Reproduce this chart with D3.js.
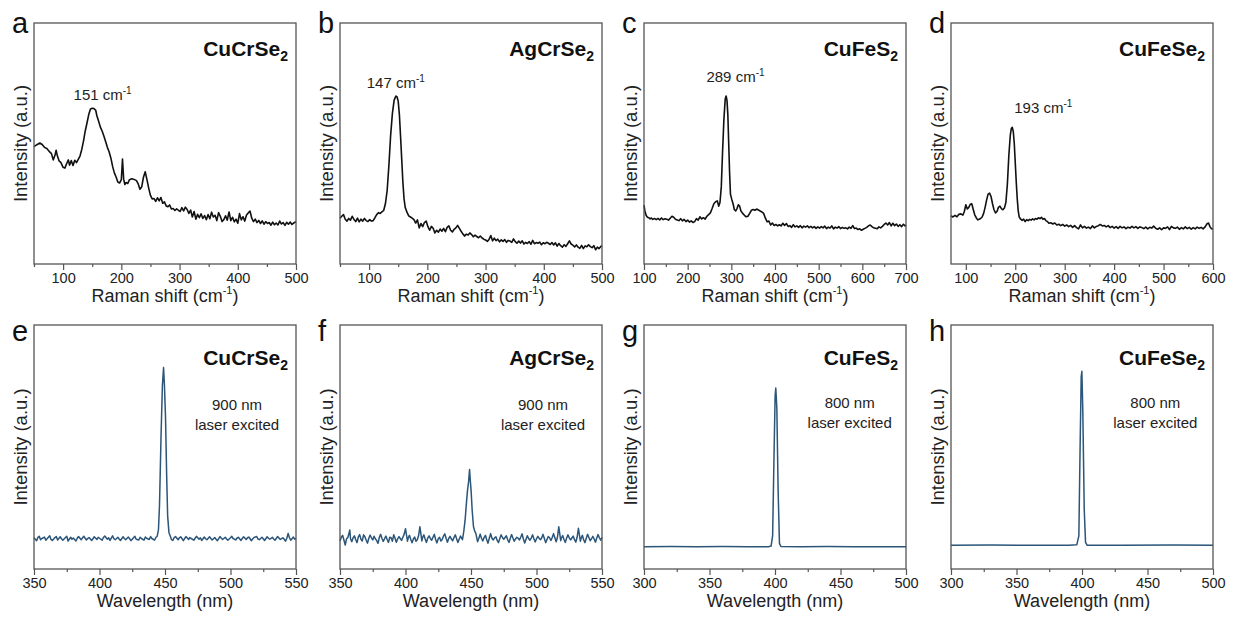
<!DOCTYPE html>
<html>
<head>
<meta charset="utf-8">
<script src="https://cdn.jsdelivr.net/npm/d3@7"></script>
<style>
  body { margin: 0; background: #fff; }
  svg { font-family: "Liberation Sans", Arial, sans-serif; }
</style>
</head>
<body>
<div id="chart"></div>
<script>
// Raman spectra, [shift (cm-1), intensity (a.u.)]
const ramanCuCrSe2 = [[50,48.7],[55,49.5],[60,50.2],[64,49.6],[68,48.4],[72,47.9],[77,46.5],[80,45.8],[83,43.2],[86,45.1],[88,47.2],[90,45.0],[93,42.8],[96,42.2],[100,40.1],[103,39.8],[106,41.6],[109,43.2],[111,41.0],[114,42.9],[117,40.9],[120,43.0],[123,42.1],[126,43.4],[129,44.8],[132,47.5],[135,51.0],[138,55.2],[141,58.5],[144,62.0],[147,64.3],[150,64.6],[153,64.5],[156,63.8],[158,61.5],[161,59.2],[164,56.8],[167,55.2],[170,53.1],[173,50.8],[176,48.4],[179,46.6],[182,44.0],[185,40.5],[188,37.8],[191,36.1],[194,34.0],[197,33.6],[200,35.0],[202,43.5],[204,35.2],[206,33.0],[208,33.8],[211,33.4],[214,35.0],[218,35.4],[222,35.1],[226,34.6],[229,33.2],[232,31.0],[235,32.0],[238,36.0],[241,38.3],[244,35.0],[247,31.5],[250,28.5],[253,27.0],[256,27.2],[259,26.0],[262,27.5],[265,26.2],[268,27.6],[271,25.2],[274,25.8],[277,24.1],[280,23.8],[283,24.5],[286,22.8],[289,23.0],[292,22.2],[295,22.9],[298,22.3],[301,21.8],[304,23.4],[307,22.0],[310,23.6],[313,22.6],[316,21.0],[319,22.4],[322,19.5],[325,21.8],[328,18.6],[331,20.6],[334,19.2],[337,20.8],[340,18.9],[343,20.1],[346,18.4],[349,20.5],[352,18.8],[355,21.5],[358,19.5],[361,20.2],[364,18.0],[367,21.3],[370,19.8],[373,17.6],[376,18.4],[379,20.0],[382,18.2],[385,21.6],[388,18.0],[391,19.4],[394,17.5],[397,18.6],[400,16.9],[403,20.9],[406,18.3],[409,19.6],[412,17.8],[415,20.3],[418,21.2],[421,22.0],[424,19.0],[427,17.6],[430,18.6],[433,17.2],[436,18.1],[439,16.8],[442,17.9],[445,16.5],[448,17.6],[451,16.8],[454,17.2],[457,16.1],[460,17.4],[463,16.3],[466,17.0],[469,16.2],[472,17.8],[475,16.6],[478,17.2],[481,16.0],[484,17.3],[487,16.5],[490,17.4],[493,16.4],[496,17.0],[500,17.6]];

const ramanAgCrSe2 = [[50,19.0],[53,19.8],[56,20.5],[59,18.6],[62,17.8],[65,18.9],[68,18.2],[71,19.8],[74,18.5],[77,17.6],[80,19.0],[83,17.5],[86,18.6],[89,17.8],[92,18.9],[95,18.0],[98,17.6],[101,18.4],[104,17.8],[107,18.0],[110,19.2],[113,20.5],[116,21.3],[119,21.0],[122,21.6],[125,22.2],[128,25.0],[131,30.5],[134,41.0],[137,53.5],[140,62.5],[143,68.0],[146,69.7],[148,69.3],[150,67.5],[152,62.0],[154,53.0],[156,43.5],[158,34.0],[160,27.0],[162,23.5],[165,21.5],[168,20.0],[171,19.5],[174,19.0],[177,18.4],[180,17.0],[183,18.3],[186,15.0],[189,16.8],[192,15.5],[195,17.2],[198,17.8],[201,15.5],[204,14.0],[207,15.6],[210,14.8],[213,12.9],[216,14.0],[219,13.2],[222,14.5],[225,13.6],[228,14.8],[231,13.4],[234,15.2],[237,15.8],[240,14.0],[243,13.3],[246,14.4],[249,15.0],[252,16.0],[255,14.8],[258,13.6],[261,12.5],[264,11.6],[267,12.4],[270,12.0],[273,12.9],[276,12.2],[279,11.3],[282,12.0],[285,11.4],[288,10.9],[291,11.6],[294,10.8],[297,10.3],[300,10.0],[303,9.4],[306,10.2],[309,11.8],[312,9.6],[315,10.7],[318,9.7],[321,10.3],[324,9.2],[327,10.0],[330,9.4],[333,10.1],[336,9.0],[339,9.8],[342,9.5],[345,9.0],[348,10.4],[351,9.3],[354,8.6],[357,9.5],[360,8.7],[363,9.6],[366,8.3],[369,9.0],[372,8.5],[375,9.3],[378,8.2],[381,9.8],[384,8.4],[387,8.9],[390,8.6],[393,9.1],[396,8.0],[399,8.8],[402,8.4],[405,9.0],[408,8.6],[411,8.1],[414,8.9],[417,7.9],[420,8.8],[423,7.4],[426,8.5],[429,7.6],[432,7.0],[435,8.0],[438,7.3],[441,8.4],[444,9.6],[447,8.3],[450,7.8],[453,7.1],[456,7.9],[459,7.0],[462,6.5],[465,7.7],[468,6.4],[471,7.5],[474,7.2],[477,8.0],[480,7.2],[483,6.8],[486,7.6],[489,5.9],[492,7.0],[495,6.4],[498,7.3],[500,7.6]];

const ramanCuFeS2 = [[100,24.4],[102,22.0],[105,20.1],[108,19.4],[111,19.2],[114,18.7],[117,19.1],[120,18.5],[124,18.9],[128,18.4],[132,18.9],[136,18.3],[140,19.1],[144,18.4],[148,18.8],[152,18.6],[156,18.2],[160,19.0],[164,19.8],[168,19.4],[172,18.6],[176,18.3],[180,18.0],[184,18.8],[188,17.9],[192,18.5],[196,17.6],[200,18.2],[204,17.4],[208,17.9],[212,17.2],[216,17.6],[220,18.8],[224,18.2],[228,19.6],[232,18.7],[236,19.2],[240,18.6],[244,19.8],[248,20.5],[252,21.2],[256,23.0],[260,25.0],[264,25.8],[268,26.2],[271,24.0],[274,25.5],[277,32.0],[280,47.0],[283,60.0],[286,68.5],[288,69.7],[290,68.0],[292,62.0],[294,50.0],[296,38.0],[298,29.0],[301,26.8],[304,25.0],[307,22.5],[310,22.0],[313,23.0],[316,24.6],[319,24.0],[322,22.0],[326,21.0],[330,20.2],[334,19.6],[338,19.8],[342,21.0],[346,22.3],[350,22.6],[354,22.3],[358,22.8],[362,22.4],[366,22.0],[370,21.6],[374,21.0],[378,19.0],[382,17.5],[386,17.8],[390,16.2],[394,17.0],[398,16.0],[402,16.4],[406,15.8],[410,16.3],[414,15.8],[418,16.9],[422,16.0],[426,16.8],[430,15.6],[434,15.9],[438,15.2],[442,16.3],[446,15.4],[450,15.8],[454,15.2],[458,15.9],[462,15.0],[466,15.7],[470,15.3],[474,15.8],[478,15.1],[482,15.6],[486,15.0],[490,15.5],[494,14.8],[498,15.4],[502,14.9],[506,15.5],[510,15.0],[514,15.7],[518,14.7],[522,15.3],[526,14.9],[530,15.8],[534,14.6],[538,15.3],[542,14.9],[546,15.5],[550,14.7],[554,15.2],[558,14.8],[562,15.0],[566,14.6],[570,15.3],[574,14.8],[578,15.9],[582,14.7],[586,14.9],[590,14.3],[594,14.6],[598,14.0],[602,14.4],[606,14.8],[610,15.2],[614,15.8],[618,16.2],[622,15.5],[626,15.0],[630,14.8],[634,14.6],[638,15.4],[642,15.0],[646,15.6],[650,16.4],[654,17.0],[658,16.2],[662,17.2],[666,15.8],[670,16.9],[674,15.9],[678,16.6],[682,15.6],[686,16.3],[690,15.5],[694,16.5],[698,15.8],[700,16.2]];

const ramanCuFeSe2 = [[70,20.0],[74,19.5],[78,20.2],[82,19.6],[86,20.6],[90,20.8],[94,20.3],[97,21.8],[100,24.6],[103,22.8],[106,23.5],[109,24.8],[112,25.0],[115,22.6],[118,20.4],[121,19.2],[124,18.3],[127,18.6],[130,18.9],[133,19.5],[136,21.0],[139,23.5],[142,26.5],[145,29.0],[148,29.4],[151,28.0],[154,25.0],[157,22.5],[160,21.2],[163,21.8],[166,23.5],[169,24.0],[172,23.0],[175,22.5],[178,23.2],[181,25.5],[184,33.0],[187,45.0],[190,53.5],[192,56.2],[194,56.7],[196,55.0],[198,50.0],[200,42.0],[202,34.0],[204,27.0],[206,22.0],[208,19.5],[211,18.6],[214,18.1],[217,18.6],[220,17.6],[223,18.4],[226,18.0],[229,18.5],[232,18.2],[235,18.7],[238,18.3],[241,18.9],[244,18.6],[247,19.2],[250,18.8],[253,19.4],[256,18.6],[259,18.9],[262,18.0],[265,17.6],[268,16.9],[272,17.1],[276,16.6],[280,17.0],[284,16.2],[288,16.5],[292,15.9],[296,16.4],[300,15.7],[304,16.2],[308,15.5],[312,16.0],[316,15.2],[320,15.9],[324,15.1],[328,14.6],[332,16.2],[336,15.0],[340,15.6],[344,14.9],[348,15.3],[352,14.7],[356,15.8],[360,15.0],[364,15.6],[368,15.9],[372,16.4],[376,15.8],[380,16.0],[384,15.4],[388,15.9],[392,15.1],[396,15.6],[400,14.9],[404,15.5],[408,14.8],[412,15.6],[416,15.0],[420,15.4],[424,14.7],[428,15.3],[432,14.9],[436,15.6],[440,15.0],[444,15.5],[448,14.8],[452,15.4],[456,15.1],[460,14.7],[464,15.3],[468,14.6],[472,15.2],[476,14.9],[480,15.7],[484,14.8],[488,14.4],[492,15.0],[496,14.2],[500,15.0],[504,14.8],[508,15.4],[512,14.3],[516,15.6],[520,15.0],[524,14.8],[528,15.3],[532,14.4],[536,15.1],[540,14.6],[544,15.4],[548,14.7],[552,15.2],[556,14.5],[560,15.1],[564,14.6],[568,15.3],[572,14.8],[576,15.2],[580,14.6],[584,15.4],[588,16.7],[591,17.0],[594,15.4],[597,14.6],[600,14.5]];

// emission spectra, [wavelength (nm), intensity (a.u.)]
const plCuCrSe2 = [[350,12.8],[351,12.2],[352,11.6],[353,13.0],[354,13.4],[355,12.0],[356,12.5],[358,13.1],[359,11.8],[360,12.4],[362,13.6],[363,12.1],[364,11.7],[366,12.9],[367,13.3],[368,11.9],[370,13.2],[371,12.4],[372,11.8],[374,12.9],[375,13.4],[376,11.5],[378,13.0],[379,12.2],[380,12.7],[382,11.5],[383,12.6],[384,13.3],[386,12.0],[387,12.7],[388,13.4],[390,11.9],[391,12.5],[392,12.9],[394,11.7],[395,12.4],[396,13.2],[398,12.1],[399,13.0],[400,12.6],[402,11.8],[403,12.9],[404,13.5],[406,12.2],[407,12.8],[408,11.7],[410,13.6],[411,12.4],[412,12.0],[414,13.0],[415,12.3],[416,11.7],[418,13.2],[419,12.5],[420,12.0],[422,13.1],[423,12.4],[424,11.6],[426,12.8],[427,13.4],[428,12.2],[430,11.9],[431,13.0],[432,12.5],[434,11.8],[435,13.1],[436,12.6],[438,12.1],[439,13.3],[440,12.5],[442,11.8],[443,12.9],[444,13.4],[445,16],[445.8,26],[447,55],[448,75],[448.9,82.6],[449.6,75],[450.4,62],[451.2,40],[452,22],[453,15],[454.2,13.2],[455,12.0],[456,11.7],[457,12.9],[458,13.3],[460,12.0],[461,12.8],[462,13.2],[464,11.6],[465,12.5],[466,13.3],[468,12.1],[469,12.9],[470,12.5],[472,11.8],[473,12.6],[474,13.4],[476,12.2],[477,12.8],[478,11.7],[480,13.1],[481,12.4],[482,12.0],[484,13.2],[485,12.5],[486,11.9],[488,12.9],[489,12.2],[490,11.6],[492,13.3],[493,12.6],[494,12.1],[496,13.0],[497,12.3],[498,11.8],[500,12.8],[501,13.4],[502,12.5],[504,11.9],[505,12.7],[506,13.0],[508,11.7],[509,12.5],[510,13.2],[512,12.1],[513,12.8],[514,13.1],[516,11.6],[517,12.4],[518,12.9],[520,13.3],[521,12.3],[522,12.0],[524,13.0],[525,12.4],[526,11.7],[528,13.2],[529,12.6],[530,12.2],[532,13.0],[533,12.3],[534,11.8],[536,13.3],[537,12.7],[538,12.1],[540,12.8],[541,12.2],[542,11.4],[543,12.6],[544,14.6],[545,12.8],[546,11.8],[548,13.1],[549,12.2],[550,12.6]];

const plAgCrSe2 = [[350,11.5],[351,13.0],[352,13.8],[353,11.9],[354,9.8],[355,12.4],[356,12.9],[357.5,16.0],[358,12.5],[359,11.2],[360,12.8],[361,13.6],[362,12.0],[363,10.8],[364,13.2],[365,14.1],[366,12.2],[367,11.5],[368,14.0],[369,13.2],[370,11.8],[371,10.6],[372,12.6],[373,13.9],[374,12.8],[375,11.9],[376,13.4],[377,12.4],[378,11.6],[379,10.5],[380,12.9],[381,14.2],[382,12.6],[383,11.3],[384,12.4],[385,13.5],[386,12.1],[387,10.9],[388,13.0],[389,12.8],[390,11.4],[391,14.0],[392,12.7],[393,11.0],[394,12.3],[395,13.3],[396,12.5],[397,11.7],[398,13.0],[399,14.3],[400,16.5],[401.5,11.4],[402,12.6],[403,13.8],[404,12.2],[405,10.8],[406,12.3],[407,13.1],[408,11.4],[409,12.0],[410,13.7],[411,17.3],[412.5,11.5],[413,12.8],[414,14.0],[415,12.3],[416,10.9],[417,12.7],[418,13.6],[419,12.5],[420,11.8],[421,13.0],[422,14.2],[423,12.1],[424,10.7],[425,12.4],[426,13.0],[427,11.5],[428,12.1],[429,13.5],[430,14.4],[431,12.6],[432,11.0],[433,12.5],[434,13.4],[435,12.3],[436,11.6],[437,12.9],[438,14.0],[439,12.4],[440,10.9],[441,12.2],[442,13.5],[443.5,12.0],[444.5,15.5],[445.5,20],[446.5,27],[447.3,32],[448.2,36],[448.9,40.8],[449.5,36],[450.1,32],[450.9,24],[451.9,17.3],[452.8,15.5],[453.7,14.6],[455,11.2],[456,12.6],[457,14.3],[458,12.6],[459,11.5],[460,12.9],[461,13.8],[462,12.0],[463,10.6],[464,12.7],[465,14.5],[466,12.6],[467,11.9],[468,12.8],[469,13.2],[470,11.7],[471,10.8],[472,12.5],[473,14.0],[474,12.9],[475,12.2],[476,12.9],[477,13.6],[478,12.0],[479,10.9],[480,12.6],[481,14.1],[482,12.7],[483,11.4],[484,12.3],[485,13.0],[486,12.6],[487,11.9],[488,13.1],[489,14.4],[490,12.3],[491,10.7],[492,12.2],[493,13.6],[494,12.5],[495,11.8],[496,12.7],[497,14.0],[498,12.4],[499,11.1],[500,12.4],[501,13.4],[502,12.6],[503,12.0],[504,12.8],[505,14.2],[506,12.5],[507,10.8],[508,12.1],[509,13.3],[510,12.8],[511,11.7],[512,12.9],[513,14.5],[514,12.8],[515,11.2],[516,13.0],[517,17.3],[518.5,11.6],[519,12.7],[520,13.7],[521,12.1],[522,10.9],[523,12.7],[524,14.0],[525,12.8],[526,11.9],[527,12.7],[528,13.5],[529,12.0],[530,11.0],[531,13.0],[532,16.7],[533.5,11.4],[534,12.5],[535,13.8],[536,12.0],[537,10.8],[538,12.6],[539,14.2],[540,12.9],[541,11.6],[542,12.4],[543,13.4],[544,12.3],[545,11.0],[546,12.7],[547,14.1],[548,12.8],[549,11.8],[550,13.0]];

const plCuFeS2 = [[300,9.1],[320,9.2],[340,9.1],[360,9.2],[380,9.1],[395,9.1],[397,9.4],[398.2,13.7],[399.2,45],[400.1,71],[400.6,74.2],[401.4,66],[402.4,32],[403.4,10.5],[404.5,9.2],[420,9.1],[440,9.2],[460,9.1],[480,9.1],[500,9.1]];

const plCuFeSe2 = [[300,9.7],[330,9.8],[360,9.7],[390,9.7],[396,9.9],[397.6,13.6],[398.6,51.7],[399.4,78.9],[399.9,81],[400.6,65.3],[401.7,24.5],[402.7,10.9],[404,9.7],[430,9.7],[470,9.8],[500,9.7]];

const compounds = ["CuCrSe", "AgCrSe", "CuFeS", "CuFeSe"];   // each followed by subscript 2
const ramanLetters = ["a", "b", "c", "d"];
const plLetters = ["e", "f", "g", "h"];
const ramanDomains = [[50, 500], [50, 500], [100, 700], [70, 600]];
const ramanTicks = [[100, 200, 300, 400, 500], [100, 200, 300, 400, 500], [100, 200, 300, 400, 500, 600, 700], [100, 200, 300, 400, 500, 600]];
const ramanMinor = [[50, 150, 250, 350, 450], [50, 150, 250, 350, 450], [150, 250, 350, 450, 550, 650], [150, 250, 350, 450, 550]];
const ramanPeaks = ["151", "147", "289", "193"];
const ramanPeakPos = [[118, 68], [96, 73], [243, 75.5], [198, 62.5]];
const plDomains = [[350, 550], [350, 550], [300, 500], [300, 500]];
const plTicks = [[350, 400, 450, 500, 550], [350, 400, 450, 500, 550], [300, 350, 400, 450, 500], [300, 350, 400, 450, 500]];
const plMinor = [[375, 425, 475, 525], [375, 425, 475, 525], [325, 375, 425, 475], [325, 375, 425, 475]];
const laserLines = ["900 nm", "900 nm", "800 nm", "800 nm"];
const laserPos = [[505, 65], [505, 65], [457, 66], [456, 66]];

const ramanData = [ramanCuCrSe2, ramanAgCrSe2, ramanCuFeS2, ramanCuFeSe2];
const plData = [plCuCrSe2, plAgCrSe2, plCuFeS2, plCuFeSe2];

var width = 1234, height = 621;
const svg = d3.select("#chart").append("svg").attr("width", width).attr("height", height);

const lefts = [34, 340, 644, 951], pw = 262;
const rows = [{top: 23, h: 241, sub: 33}, {top: 325, h: 244, sub: 40}];

function panel(i, row, cfg) {
    const r = rows[row];
    const g = svg.append("g").attr("transform", `translate(${lefts[i]},${r.top})`);
    const x = d3.scaleLinear().domain(cfg.domain).range([0, pw]);
    const y = d3.scaleLinear().domain([0, 100]).range([r.h, 0]);

    // axis ticks (outward)
    const ax = g.append("g").attr("transform", `translate(0,${r.h})`)
        .call(d3.axisBottom(x).tickValues(cfg.ticks).tickSize(6).tickSizeOuter(0).tickPadding(3));
    ax.select(".domain").remove();
    ax.selectAll("line").attr("stroke", "#555").attr("stroke-width", 1.2);
    ax.selectAll("text").attr("font-size", 14.5).attr("fill", "#222").attr("font-family", "Liberation Sans, Arial");
    const mn = g.append("g").attr("transform", `translate(0,${r.h})`)
        .call(d3.axisBottom(x).tickValues(cfg.minor).tickSize(3).tickFormat(""));
    mn.select(".domain").remove();
    mn.selectAll("line").attr("stroke", "#555").attr("stroke-width", 1.2);

    g.append("path").datum(cfg.data)
        .attr("fill", "none").attr("stroke", cfg.color).attr("stroke-width", cfg.lw)
        .attr("stroke-linejoin", "round")
        .attr("d", d3.line().x(d => x(d[0])).y(d => y(d[1])));

    g.append("rect").attr("width", pw).attr("height", r.h)
        .attr("fill", "none").attr("stroke", "#555").attr("stroke-width", 1.3);

    // panel letter
    g.append("text").attr("x", -22).attr("y", row == 0 ? 10 : 16)
        .attr("font-size", 29).attr("fill", "#111").text(cfg.letter);

    // compound name
    const f = g.append("text").attr("x", pw - 8).attr("y", r.sub).attr("text-anchor", "end")
        .attr("font-size", 21).attr("font-weight", "bold").attr("fill", "#111");
    f.append("tspan").text(cfg.name);
    f.append("tspan").attr("font-size", 14).attr("dy", 5).text("2");

    // y title
    g.append("text").attr("transform", `translate(-7,${r.h / 2}) rotate(-90)`)
        .attr("text-anchor", "middle").attr("font-size", 18.5).attr("fill", "#222")
        .text("Intensity (a.u.)");

    // x title
    const xt = g.append("text").attr("x", pw / 2).attr("y", r.h + 38)
        .attr("text-anchor", "middle").attr("font-size", 18).attr("fill", "#222");
    if (row == 0) {
        xt.append("tspan").text("Raman shift (cm");
        xt.append("tspan").attr("font-size", 11).attr("dy", -8).text("-1");
        xt.append("tspan").attr("dy", 8).text(")");
    } else {
        xt.text("Wavelength (nm)");
    }
    return {g, x, y};
}

ramanData.forEach((data, i) => {
    const p = panel(i, 0, {domain: ramanDomains[i], ticks: ramanTicks[i], minor: ramanMinor[i],
        data: data, color: "#111", lw: 1.6, letter: ramanLetters[i], name: compounds[i]});
    const t = p.g.append("text").attr("x", p.x(ramanPeakPos[i][0])).attr("y", p.y(ramanPeakPos[i][1]))
        .attr("font-size", 15).attr("fill", "#222");
    t.append("tspan").text(ramanPeaks[i] + " cm");
    t.append("tspan").attr("font-size", 10).attr("dy", -6).text("-1");
});

plData.forEach((data, i) => {
    const p = panel(i, 1, {domain: plDomains[i], ticks: plTicks[i], minor: plMinor[i],
        data: data, color: "#2b5579", lw: 1.5, letter: plLetters[i], name: compounds[i]});
    const cx = p.x(laserPos[i][0]), cy = p.y(laserPos[i][1]);
    p.g.append("text").attr("x", cx).attr("y", cy).attr("text-anchor", "middle")
        .attr("font-size", 15).attr("fill", "#222").text(laserLines[i]);
    p.g.append("text").attr("x", cx).attr("y", cy + 20).attr("text-anchor", "middle")
        .attr("font-size", 15).attr("fill", "#222").text("laser excited");
});
</script>
</body>
</html>
